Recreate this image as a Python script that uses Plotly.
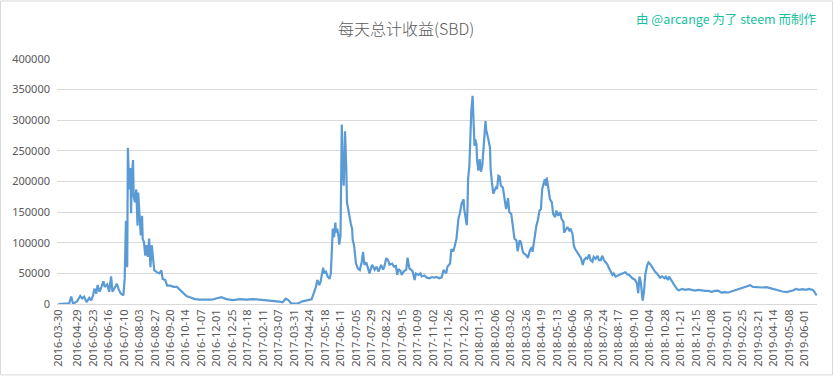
import pandas as pd
import plotly.graph_objects as go

title_text = "每天总计收益(SBD)"
credit_text = "由 @arcange 为了 steem 而制作"

start_date = "2016-03-30"

day_offsets = [
    0, 10, 17, 20, 23, 29, 34, 37, 40, 44, 48, 51, 54, 56, 59, 61, 64, 67, 70, 72,
    76, 79, 82, 84, 88, 91, 94, 97, 101, 103, 105, 107, 108, 110, 112, 113, 114, 116, 117, 119,
    121, 123, 124, 126, 128, 130, 131, 133, 135, 137, 139, 141, 143, 145, 147, 149, 153, 157, 160, 162,
    166, 169, 174, 179, 184, 189, 194, 199, 204, 212, 220, 230, 238, 245, 253, 261, 271, 282, 292, 302,
    312, 323, 333, 343, 348, 353, 357, 361, 365, 371, 379, 387, 393, 396, 400, 402, 405, 407, 409, 411,
    413, 415, 418, 421, 423, 424, 426, 428, 430, 431, 433, 435, 436, 438, 439, 440, 441, 443, 444, 445,
    447, 448, 450, 452, 454, 456, 457, 459, 460, 462, 465, 468, 471, 473, 475, 478, 481, 483, 487, 491,
    494, 497, 501, 504, 506, 509, 512, 514, 518, 521, 524, 526, 528, 531, 533, 536, 540, 542, 545, 548,
    550, 553, 555, 559, 562, 564, 568, 572, 576, 580, 584, 587, 591, 595, 598, 602, 604, 608, 610, 613,
    615, 618, 621, 623, 626, 629, 630, 632, 634, 635, 636, 638, 640, 641, 643, 644, 645, 646, 647, 649,
    650, 652, 654, 655, 656, 658, 660, 661, 663, 664, 666, 668, 670, 671, 673, 675, 677, 679, 681, 683,
    685, 687, 690, 693, 695, 698, 700, 703, 705, 708, 711, 713, 716, 718, 721, 723, 726, 729, 732, 735,
    736, 739, 742, 744, 747, 749, 751, 753, 755, 757, 758, 760, 763, 766, 768, 771, 773, 776, 779, 781,
    784, 785, 788, 790, 793, 795, 798, 800, 802, 805, 808, 811, 814, 816, 819, 821, 824, 826, 829, 831,
    834, 837, 839, 842, 844, 847, 849, 852, 855, 857, 860, 862, 865, 870, 875, 880, 883, 886, 891, 895,
    898, 900, 902, 904, 906, 907, 909, 911, 914, 916, 919, 921, 924, 926, 929, 932, 934, 937, 941, 943,
    946, 948, 952, 956, 960, 963, 968, 973, 978, 983, 988, 993, 998, 1004, 1009, 1014, 1019, 1024, 1029, 1034,
    1040, 1045, 1050, 1055, 1060, 1065, 1070, 1074, 1078, 1083, 1088, 1093, 1099, 1104, 1109, 1114, 1119, 1124, 1130, 1135,
    1140, 1145, 1150, 1155, 1160, 1165, 1171, 1173, 1177,
]

daily_sbd = [
    0, 500, 1000, 12000, 500, 4000, 13000, 9000, 12000, 3000, 10000, 6000, 14000, 25000, 17000, 31000, 20000, 28000, 37000, 28000,
    32000, 20000, 45000, 20000, 28000, 33000, 23000, 17000, 14000, 41000, 136000, 60000, 255000, 187000, 222000, 148000, 205000, 235000, 176000, 166000,
    187000, 128000, 182000, 144000, 112000, 144000, 106000, 101000, 79000, 96000, 77000, 107000, 60000, 96000, 79000, 55000, 52000, 50000, 55000, 41000,
    39000, 30000, 30000, 28000, 28000, 23000, 17000, 13000, 11000, 8000, 7000, 6500, 7000, 9000, 11000, 8000, 6500, 8000, 7000, 8000,
    7000, 6500, 5500, 4000, 2700, 8600, 6500, 1600, 500, 500, 4300, 6000, 7500, 16000, 28600, 39400, 31000, 36000, 47500, 59000,
    50000, 54000, 45000, 41000, 50000, 80000, 123000, 109000, 133000, 117000, 123000, 109000, 97000, 112000, 182000, 293000, 236000, 193000, 236000, 282000,
    220000, 166000, 155000, 139000, 131000, 123000, 104000, 96000, 80000, 66000, 58000, 55500, 69000, 85000, 64000, 68000, 57000, 50000, 64000, 56000,
    61000, 53000, 64000, 56000, 61000, 75000, 71000, 64000, 66000, 61000, 62000, 47500, 57000, 54000, 47500, 53000, 56000, 75600, 58000, 56000,
    53000, 39000, 50000, 47500, 50000, 45000, 46500, 43000, 42000, 44000, 43000, 44000, 42000, 43500, 55600, 50000, 61000, 66000, 89600, 86000,
    93400, 107000, 139000, 147000, 164000, 171000, 155000, 139000, 128500, 153000, 204000, 225700, 296000, 315000, 340000, 312000, 309000, 258000, 269000, 261000,
    234000, 217600, 236500, 228000, 216000, 226000, 255000, 277000, 298600, 285000, 277000, 266000, 255000, 220000, 198700, 180000, 185000, 190000, 188000, 209500,
    208000, 193000, 190000, 166000, 155000, 172800, 150000, 147000, 128300, 106700, 104000, 86000, 104000, 101000, 85000, 82000, 80000, 75500, 88000, 93000,
    85000, 109000, 128000, 136000, 152600, 155000, 187600, 195700, 203800, 193000, 206500, 193000, 171400, 166000, 147000, 141800, 152600, 144000, 150000, 139000,
    134000, 116500, 123000, 125600, 120000, 123000, 114800, 96000, 90000, 84000, 80000, 75500, 63600, 71700, 75500, 74000, 80800, 71700, 69000, 77000,
    74000, 78700, 71700, 71700, 78700, 71700, 69000, 64700, 58000, 52800, 47400, 50000, 44700, 47400, 50100, 51700, 48400, 47400, 42000, 39400,
    34000, 17800, 44700, 36000, 15000, 5400, 20000, 47400, 63600, 68000, 64700, 61000, 56000, 53000, 50000, 46000, 43000, 45000, 42000, 44600,
    39200, 44600, 36500, 31000, 24700, 22000, 24700, 23000, 24200, 23000, 22000, 23000, 22000, 21500, 21500, 19900, 21500, 22000, 18800, 19400,
    18800, 20400, 22000, 24200, 25800, 27400, 29600, 30600, 28000, 27400, 26900, 26900, 27400, 25800, 24700, 23000, 21500, 20400, 19400, 20400,
    22000, 24700, 23000, 24200, 23000, 24700, 23000, 20400, 14000,
]

tick_labels = [
    "2016-03-30", "2016-04-29", "2016-05-23", "2016-06-16", "2016-07-10", "2016-08-03", "2016-08-27",
    "2016-09-20", "2016-10-14", "2016-11-07", "2016-12-01", "2016-12-25", "2017-01-18", "2017-02-11",
    "2017-03-07", "2017-03-31", "2017-04-24", "2017-05-18", "2017-06-11", "2017-07-05", "2017-07-29",
    "2017-08-22", "2017-09-15", "2017-10-09", "2017-11-02", "2017-11-26", "2017-12-20", "2018-01-13",
    "2018-02-06", "2018-03-02", "2018-03-26", "2018-04-19", "2018-05-13", "2018-06-06", "2018-06-30",
    "2018-07-24", "2018-08-17", "2018-09-10", "2018-10-04", "2018-10-28", "2018-11-21", "2018-12-15",
    "2019-01-08", "2019-02-01", "2019-02-25", "2019-03-21", "2019-04-14", "2019-05-08", "2019-06-01",
]

y_ticks = [0, 50000, 100000, 150000, 200000, 250000, 300000, 350000, 400000]

dates = pd.to_datetime(start_date) + pd.to_timedelta(day_offsets, unit="D")

W, H = 833, 379
ML, MR, MT, MB = 57, 16, 59, 73
PW, PH = W - ML - MR, H - MT - MB

fig = go.Figure()
fig.add_trace(go.Scatter(
    x=dates, y=daily_sbd, mode="lines",
    line=dict(color="#5B9BD5", width=2.2),
    showlegend=False, hoverinfo="x+y",
))

gray = "#595959"
fig.update_layout(
    width=W, height=H,
    margin=dict(l=ML, r=MR, t=MT, b=MB, pad=0),
    paper_bgcolor="white", plot_bgcolor="white",
    font=dict(family="Noto Sans, Noto Sans CJK SC, sans-serif", size=11, color=gray),
    xaxis=dict(
        type="date",
        range=["2016-03-28", "2019-06-20 12:00"],
        tickmode="array", tickvals=tick_labels, ticktext=tick_labels,
        tickangle=-90, showgrid=False, zeroline=False,
        showline=True, linecolor="#D9D9D9", linewidth=1,
        ticks="", tickfont=dict(size=11, color=gray),
    ),
    yaxis=dict(
        range=[0, 400000], tickmode="array", tickvals=y_ticks,
        ticktext=[str(v) for v in y_ticks],
        showgrid=True, gridcolor="#D9D9D9", gridwidth=1,
        zeroline=False, showline=False, ticks="",
        ticklabelstandoff=6,
        tickfont=dict(size=11, color=gray),
    ),
    annotations=[
        dict(text=title_text, xref="paper", yref="paper",
             x=(406 - ML) / PW, y=(H - MB - 28) / PH,
             xanchor="center", yanchor="middle", showarrow=False,
             font=dict(family="Noto Sans CJK SC, sans-serif", size=16, color=gray, weight=300)),
        dict(text=credit_text, xref="paper", yref="paper",
             x=(818 - ML) / PW, y=(H - MB - 18) / PH,
             xanchor="right", yanchor="middle", showarrow=False,
             font=dict(family="Noto Sans CJK SC, sans-serif", size=12.5, color="#17BF9F")),
    ],
    shapes=[
        dict(type="rect", xref="paper", yref="paper",
             x0=(0.5 - ML) / PW, x1=(W - 0.5 - ML) / PW,
             y0=(H - MB - (H - 1.5)) / PH, y1=(H - MB - 0.5) / PH,
             line=dict(color="#D9D9D9", width=1), fillcolor="rgba(0,0,0,0)", layer="below"),
    ],
)

fig.write_html(
    "out.html",
    config={"displayModeBar": False},
    post_script="document.body.style.margin='0';document.body.style.overflow='hidden';",
)
